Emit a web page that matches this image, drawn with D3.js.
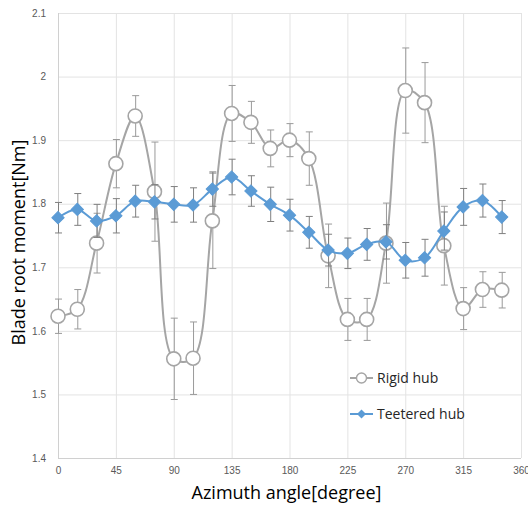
<!DOCTYPE html>
<html>
<head>
<meta charset="utf-8">
<script src="https://cdn.jsdelivr.net/npm/d3@7"></script>
<style>
  body { margin: 0; background: #fff; }
  svg { display: block; font-family: "Open Sans", "Noto Sans", sans-serif; }
</style>
</head>
<body>
<div id="chart"></div>
<script>
// Data
const angles = [0, 15, 30, 45, 60, 75, 90, 105, 120, 135, 150, 165, 180, 195, 210, 225, 240, 255, 270, 285, 300, 315, 330, 345];
const rigid = [1.623, 1.634, 1.738, 1.863, 1.938, 1.819, 1.556, 1.557, 1.773, 1.942, 1.928, 1.887, 1.900, 1.871, 1.718, 1.618, 1.618, 1.738, 1.978, 1.959, 1.734, 1.635, 1.665, 1.664];
const rigidErr = [0.027, 0.031, 0.047, 0.038, 0.032, 0.078, 0.064, 0.057, 0.075, 0.044, 0.033, 0.029, 0.026, 0.042, 0.05, 0.033, 0.033, 0.063, 0.067, 0.063, 0.062, 0.033, 0.028, 0.028];
const teetered = [1.778, 1.791, 1.773, 1.781, 1.804, 1.803, 1.799, 1.798, 1.823, 1.842, 1.820, 1.799, 1.782, 1.755, 1.727, 1.722, 1.736, 1.740, 1.711, 1.715, 1.757, 1.795, 1.805, 1.779];
const teeteredErr = [0.024, 0.025, 0.026, 0.027, 0.025, 0.027, 0.028, 0.027, 0.027, 0.028, 0.024, 0.027, 0.025, 0.025, 0.025, 0.024, 0.025, 0.027, 0.028, 0.029, 0.03, 0.029, 0.026, 0.026];
const xTicks = [0, 45, 90, 135, 180, 225, 270, 315, 360];
const yTicks = [1.4, 1.5, 1.6, 1.7, 1.8, 1.9, 2, 2.1];

// Dimensions
const width = 528;
const height = 511;
const margin = { top: 13, right: 7, bottom: 53, left: 58 };
const innerWidth = width - margin.left - margin.right;
const innerHeight = height - margin.top - margin.bottom;

const svg = d3.select("#chart")
  .append("svg")
    .attr("width", width)
    .attr("height", height);

const g = svg.append("g")
    .attr("transform", `translate(${margin.left}, ${margin.top})`);

const xScale = d3.scaleLinear().domain([0, 360]).range([0, innerWidth]);
const yScale = d3.scaleLinear().domain([1.4, 2.1]).range([innerHeight, 0]);

// Grid
g.append("g")
  .selectAll("line")
  .data(yTicks)
  .join("line")
    .attr("x1", 0)
    .attr("x2", innerWidth)
    .attr("y1", d => yScale(d) + 0.5)
    .attr("y2", d => yScale(d) + 0.5)
    .attr("stroke", d => d === 1.4 ? "#d0d0d0" : "#e3e3e3");
g.append("g")
  .selectAll("line")
  .data(xTicks)
  .join("line")
    .attr("x1", d => xScale(d) + 0.5)
    .attr("x2", d => xScale(d) + 0.5)
    .attr("y1", 0)
    .attr("y2", innerHeight)
    .attr("stroke", d => d === 0 ? "#d0d0d0" : "#e3e3e3");

// Axes (labels only)
const leftAxis = d3.axisLeft(yScale)
  .tickValues(yTicks)
  .tickFormat(d3.format(""))
  .tickSize(0)
  .tickPadding(12);
g.append("g")
    .attr("class", "axis axis-y")
    .call(leftAxis);

const bottomAxis = d3.axisBottom(xScale)
  .tickValues(xTicks)
  .tickSize(0)
  .tickPadding(9);
g.append("g")
    .attr("class", "axis axis-x")
    .attr("transform", `translate(0, ${innerHeight})`)
    .call(bottomAxis);

g.selectAll(".axis .domain").remove();
g.selectAll(".axis text")
    .attr("fill", "#595959")
    .attr("font-size", 10);

// Axis titles
svg.append("text")
    .attr("x", margin.left + innerWidth / 2 - 3)
    .attr("y", 499)
    .attr("text-anchor", "middle")
    .attr("font-size", 18)
    .attr("fill", "#000")
    .text("Azimuth angle[degree]");
const yTitleX = 25;
const yTitleY = margin.top + innerHeight / 2 + 7;
svg.append("text")
    .attr("x", yTitleX)
    .attr("y", yTitleY)
    .attr("transform", `rotate(-90, ${yTitleX}, ${yTitleY})`)
    .attr("text-anchor", "middle")
    .attr("font-size", 18)
    .attr("fill", "#000")
    .text("Blade root moment[Nm]");

const series = [
  { name: "Rigid hub", values: rigid, errs: rigidErr, color: "#a5a5a5", errColor: "#9a9a9a", marker: "circle" },
  { name: "Teetered hub", values: teetered, errs: teeteredErr, color: "#5b9bd5", errColor: "#7f7f7f", marker: "diamond" }
];

const line = d3.line()
  .x(d => xScale(d[0]))
  .y(d => yScale(d[1]))
  .curve(d3.curveCatmullRom.alpha(0.5));

const capW = 3;

series.forEach(s => {
  const pts = angles.map((a, i) => [a, s.values[i], s.errs[i]]);
  const sg = g.append("g").attr("class", "series");

  // Error bars
  const eb = sg.append("g")
    .selectAll("g")
    .data(pts)
    .join("g")
      .attr("stroke", s.errColor)
      .attr("stroke-width", 1);
  eb.append("line")
      .attr("x1", d => xScale(d[0]) + 0.5)
      .attr("x2", d => xScale(d[0]) + 0.5)
      .attr("y1", d => yScale(d[1] + d[2]))
      .attr("y2", d => yScale(d[1] - d[2]));
  eb.append("line")
      .attr("x1", d => xScale(d[0]) - capW)
      .attr("x2", d => xScale(d[0]) + capW + 1)
      .attr("y1", d => yScale(d[1] + d[2]))
      .attr("y2", d => yScale(d[1] + d[2]));
  eb.append("line")
      .attr("x1", d => xScale(d[0]) - capW)
      .attr("x2", d => xScale(d[0]) + capW + 1)
      .attr("y1", d => yScale(d[1] - d[2]))
      .attr("y2", d => yScale(d[1] - d[2]));

  // Line
  sg.append("path")
      .datum(pts)
      .attr("fill", "none")
      .attr("stroke", s.color)
      .attr("stroke-width", 2)
      .attr("d", line);

  // Markers
  if (s.marker === "circle") {
    sg.append("g")
      .selectAll("circle")
      .data(pts)
      .join("circle")
        .attr("cx", d => xScale(d[0]))
        .attr("cy", d => yScale(d[1]))
        .attr("r", 7)
        .attr("fill", "#fff")
        .attr("stroke", s.color)
        .attr("stroke-width", 1.6);
  } else {
    sg.append("g")
      .selectAll("path")
      .data(pts)
      .join("path")
        .attr("transform", d => `translate(${xScale(d[0])}, ${yScale(d[1])}) rotate(45)`)
        .attr("d", d3.symbol().type(d3.symbolSquare).size(75))
        .attr("fill", s.color)
        .attr("stroke", s.color)
        .attr("stroke-width", 1);
  }
});

// Legend
const legend = svg.append("g")
    .attr("transform", "translate(350, 378)");
series.forEach((s, i) => {
  const lg = legend.append("g").attr("transform", `translate(0, ${i * 36})`);
  lg.append("line")
      .attr("x1", 0)
      .attr("x2", 23)
      .attr("stroke", s.color)
      .attr("stroke-width", 2);
  if (s.marker === "circle") {
    lg.append("circle")
        .attr("cx", 11.5)
        .attr("r", 5)
        .attr("fill", "#fff")
        .attr("stroke", s.color)
        .attr("stroke-width", 1.4);
  } else {
    lg.append("path")
        .attr("transform", "translate(11.5, 0) rotate(45)")
        .attr("d", d3.symbol().type(d3.symbolSquare).size(40))
        .attr("fill", s.color);
  }
  lg.append("text")
      .attr("x", 27)
      .attr("dy", "0.35em")
      .attr("font-size", 14)
      .attr("fill", "#262626")
      .text(s.name);
});
</script>
</body>
</html>
